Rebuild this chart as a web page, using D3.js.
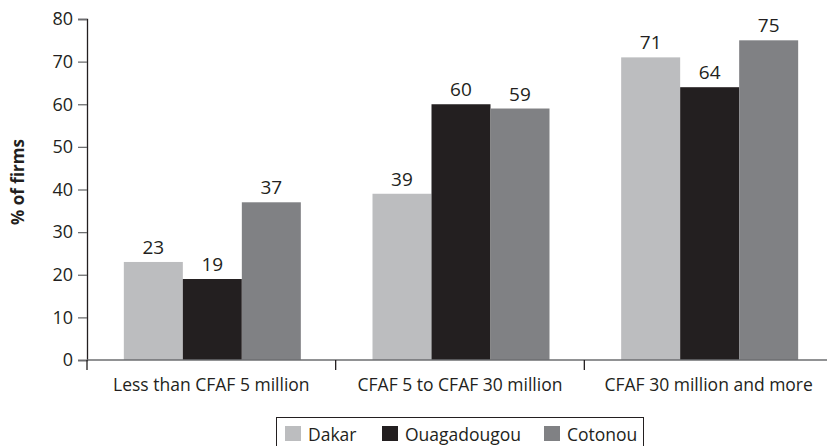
<!DOCTYPE html>
<html>
<head>
<meta charset="utf-8">
<script src="https://cdn.jsdelivr.net/npm/d3@7/dist/d3.min.js"></script>
<style>
  body { margin: 0; background: #fff; }
  svg { display: block; }
  text { font-family: "Open Sans", "Noto Sans", sans-serif; fill: #231f20; }
</style>
</head>
<body>
<svg id="chart" width="827" height="446"></svg>
<script>
// Share of firms by annual turnover bracket, per city
const categories = ["Less than CFAF 5 million", "CFAF 5 to CFAF 30 million", "CFAF 30 million and more"];
const seriesNames = ["Dakar", "Ouagadougou", "Cotonou"];
const dakar = [23, 39, 71];
const ouagadougou = [19, 60, 64];
const cotonou = [37, 59, 75];
const yTicks = [0, 10, 20, 30, 40, 50, 60, 70, 80];
const colors = ["#bcbdbf", "#231f20", "#808184"];

const seriesValues = [dakar, ouagadougou, cotonou];
const svg = d3.select("#chart");

const x0 = d3.scaleBand().domain(categories).range([87, 833]).paddingInner(0).paddingOuter(0);
const y = d3.scaleLinear().domain([0, 80]).range([360, 19]);

// series offsets inside each category band
const groupW = 177;
const x1 = d3.scaleBand().domain(seriesNames)
  .range([(x0.bandwidth() - groupW) / 2 + 1, (x0.bandwidth() + groupW) / 2 + 1]);

const rows = categories.map((c, i) => ({
  cat: c,
  vals: seriesNames.map((s, j) => ({ s, j, v: seriesValues[j][i] }))
}));

const groups = svg.append("g").selectAll("g").data(rows).join("g")
  .attr("transform", d => `translate(${x0(d.cat)},0)`);

groups.selectAll("rect").data(d => d.vals).join("rect")
  .attr("x", d => x1(d.s))
  .attr("width", x1.bandwidth())
  .attr("y", d => y(d.v))
  .attr("height", d => y(0) - y(d.v))
  .attr("fill", d => colors[d.j]);

groups.selectAll("text.val").data(d => d.vals).join("text")
  .attr("class", "val")
  .attr("x", d => x1(d.s) + x1.bandwidth() / 2)
  .attr("y", d => y(d.v) - 8)
  .attr("text-anchor", "middle")
  .style("font-size", "19px")
  .text(d => d.v);

// Y axis
const yAxis = d3.axisLeft(y).tickValues(yTicks).tickSize(9).tickPadding(5);
const gy = svg.append("g").attr("transform", "translate(87,0)").call(yAxis);
gy.select(".domain").attr("stroke", "#231f20").attr("stroke-width", 1.3);
gy.selectAll(".tick line").attr("stroke", "#6d6e70").attr("stroke-width", 1.3);
gy.selectAll(".tick text").style("font-size", "18px").attr("fill", "#231f20");

// X axis with separators between categories
const gx = svg.append("g").attr("transform", "translate(0,360)");
gx.append("line").attr("x1", 87).attr("x2", 833).attr("y1", 0).attr("y2", 0)
  .attr("stroke", "#6d6e70").attr("stroke-width", 1.5);
const seps = categories.map(c => x0(c)).concat([x0(categories[2]) + x0.bandwidth()]);
gx.selectAll("line.sep").data(seps).join("line")
  .attr("class", "sep")
  .attr("x1", d => d).attr("x2", d => d)
  .attr("y1", 0).attr("y2", 10)
  .attr("stroke", "#231f20").attr("stroke-width", 1.3);
gx.selectAll("text.cat").data(categories).join("text")
  .attr("class", "cat")
  .attr("x", d => x0(d) + x0.bandwidth() / 2)
  .attr("y", 31)
  .attr("text-anchor", "middle")
  .style("font-size", "17.5px")
  .text(d => d);

// Y axis title
svg.append("text")
  .attr("transform", "translate(24,182) rotate(-90)")
  .attr("text-anchor", "middle")
  .style("font-size", "17px")
  .style("font-weight", "bold")
  .text("% of firms");

// Legend
const legend = svg.append("g");
legend.append("rect").attr("x", 276.5).attr("y", 417.5).attr("width", 367).attr("height", 40)
  .attr("fill", "none").attr("stroke", "#231f20").attr("stroke-width", 1);
const legendX = [285, 382, 544];
const items = legend.selectAll("g").data(seriesNames).join("g")
  .attr("transform", (d, i) => `translate(${legendX[i]},426)`);
items.append("rect").attr("width", 16).attr("height", 15).attr("fill", (d, i) => colors[i]);
items.append("text").attr("x", 23).attr("y", 15).style("font-size", "17.5px").text(d => d);
</script>
</body>
</html>
